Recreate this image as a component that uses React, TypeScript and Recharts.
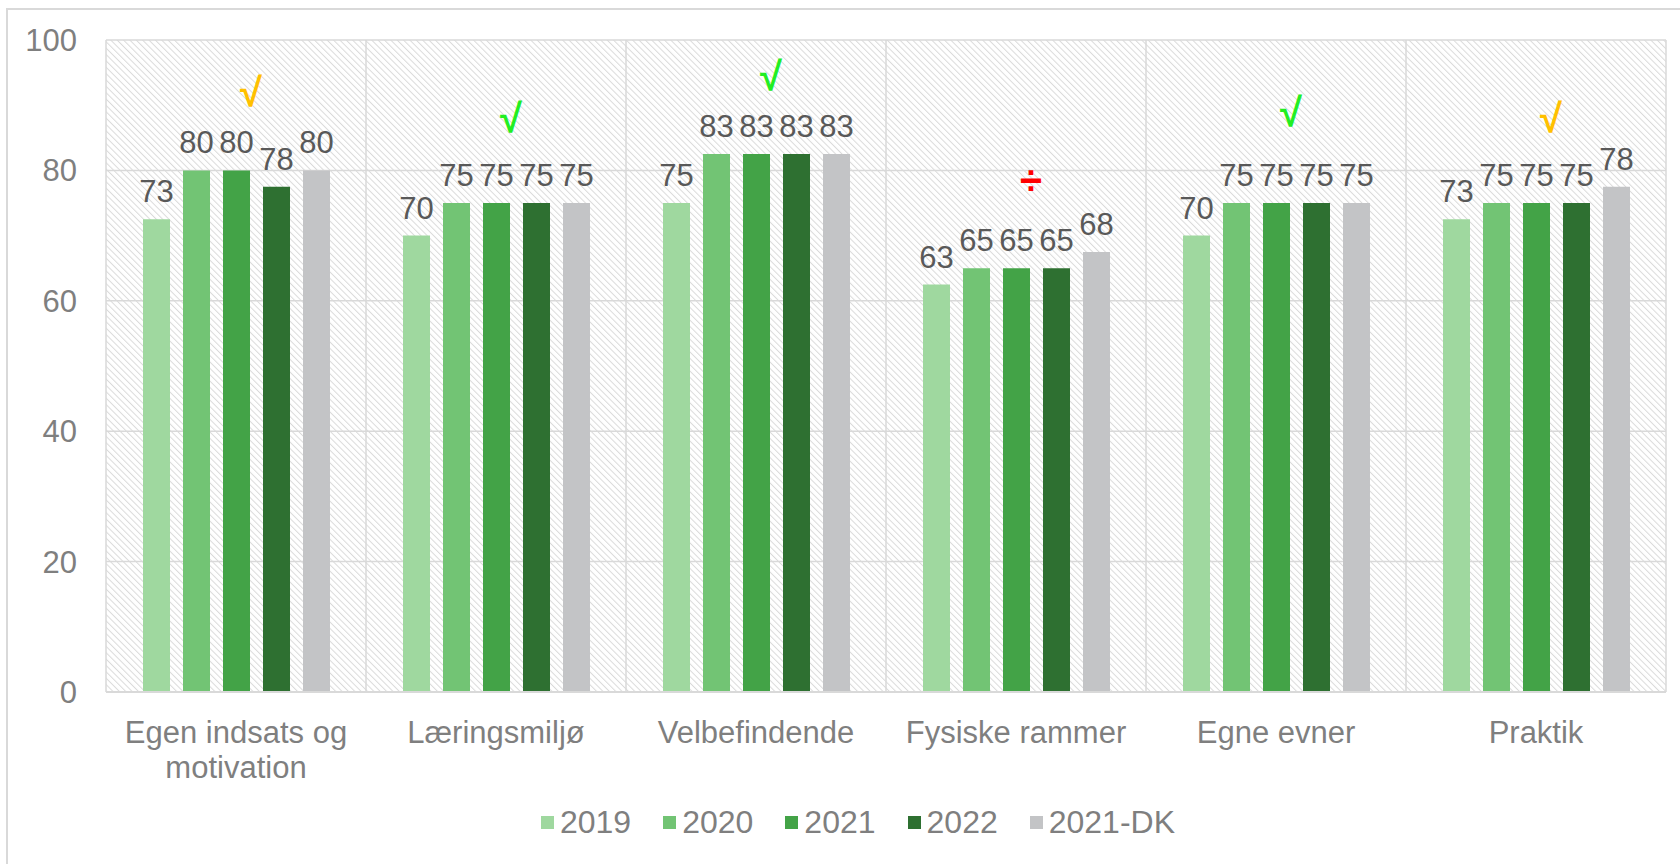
import React from 'react';
import { ComposedChart, Bar, Line, XAxis, YAxis, CartesianGrid, LabelList, Legend } from 'recharts';

const CATEGORIES = ['Egen indsats og\nmotivation', 'Læringsmiljø', 'Velbefindende', 'Fysiske rammer', 'Egne evner', 'Praktik'];

const Y2019 = [72.5, 70, 75, 62.5, 70, 72.5];
const Y2020 = [80, 75, 82.5, 65, 75, 75];
const Y2021 = [80, 75, 82.5, 65, 75, 75];
const Y2022 = [77.5, 75, 82.5, 65, 75, 75];
const Y2021DK = [80, 75, 82.5, 67.5, 75, 77.5];

// status marks drawn above each group
const MARK_SYMBOLS = ['√', '√', '√', '÷', '√', '√'];
const MARK_STATUS = ['neutral', 'up', 'up', 'down', 'up', 'neutral'];
const MARK_LEVELS = [92, 88, 94.5, 78.5, 89, 88];

const Y_TICKS = [0, 20, 40, 60, 80, 100];

const SERIES = [
  { key: 'y2019', name: '2019', color: '#9fd89f' },
  { key: 'y2020', name: '2020', color: '#72c474' },
  { key: 'y2021', name: '2021', color: '#43a347' },
  { key: 'y2022', name: '2022', color: '#2e7031' },
  { key: 'y2021dk', name: '2021-DK', color: '#c3c4c6' },
];

const STATUS_COLORS: Record<string, string> = {
  neutral: '#ffc000',
  up: '#22ee22',
  down: '#ff0000',
};

const FONT = '"Liberation Sans", Arial, sans-serif';

const data = CATEGORIES.map((name, i) => ({
  name,
  y2019: Y2019[i],
  y2020: Y2020[i],
  y2021: Y2021[i],
  y2022: Y2022[i],
  y2021dk: Y2021DK[i],
  mark: MARK_LEVELS[i],
  symbol: MARK_SYMBOLS[i],
  status: MARK_STATUS[i],
}));

function CategoryTick({ x, y, payload }: any) {
  const lines = String(payload.value).split('\n');
  return (
    <text x={x} y={y} textAnchor="middle" fill="#7f7f7f" fontSize={31} fontFamily={FONT}>
      {lines.map((line, i) => (
        <tspan key={i} x={x} dy={i === 0 ? 22 : 35}>
          {line}
        </tspan>
      ))}
    </text>
  );
}

function renderMark(props: any) {
  const { cx, cy, payload, index } = props;
  if (cx == null || cy == null) return <g key={index} />;
  return (
    <text
      key={index}
      x={cx + 15}
      y={cy}
      textAnchor="middle"
      dominantBaseline="central"
      fill={STATUS_COLORS[payload.status]}
      fontSize={40}
      fontWeight="bold"
      fontFamily={FONT}
    >
      {payload.symbol}
    </text>
  );
}

function LegendContent() {
  return (
    <div style={{ display: 'flex', justifyContent: 'center', alignItems: 'center', fontFamily: FONT }}>
      {SERIES.map((s) => (
        <div key={s.key} style={{ display: 'flex', alignItems: 'center', margin: '0 16px' }}>
          <span style={{ width: 13, height: 13, background: s.color, display: 'inline-block', marginRight: 6 }} />
          <span style={{ fontSize: 32, color: '#7f7f7f' }}>{s.name}</span>
        </div>
      ))}
    </div>
  );
}

export default function App() {
  return (
    <div style={{ position: 'absolute', left: 0, top: 0, width: 1680, height: 864, background: '#fff', overflow: 'hidden' }}>
      <div
        style={{
          position: 'absolute',
          left: 6,
          top: 8,
          width: 1680,
          height: 864,
          borderTop: '2px solid #d9d9d9',
          borderLeft: '2px solid #d9d9d9',
        }}
      />
      <div style={{ position: 'absolute', left: 0, top: 0 }}>
        <ComposedChart
          width={1680}
          height={864}
          data={data}
          margin={{ top: 40, right: 14, left: 0, bottom: 72 }}
          barSize={27}
          barGap={13}
        >
          <defs>
            <pattern id="hatch" width="4.5" height="10" patternUnits="userSpaceOnUse" patternTransform="rotate(-45)">
              <line x1="0.5" y1="0" x2="0.5" y2="10" stroke="#dadada" strokeWidth="1" />
            </pattern>
          </defs>
          <CartesianGrid
            stroke="#d9d9d9"
            strokeWidth={1.5}
            fill="url(#hatch)"
            verticalCoordinatesGenerator={({ offset }: any) =>
              [...CATEGORIES.map((_, i) => offset.left + (i * offset.width) / CATEGORIES.length), offset.left + offset.width]
            }
          />
          <XAxis
            dataKey="name"
            height={100}
            tickLine={false}
            tickSize={0}
            tickMargin={29}
            axisLine={{ stroke: '#d9d9d9', strokeWidth: 2 }}
            tick={<CategoryTick />}
            interval={0}
          />
          <YAxis
            width={106}
            domain={[0, 100]}
            ticks={Y_TICKS}
            axisLine={false}
            tickLine={false}
            tickSize={0}
            tickMargin={29}
            tick={{ fill: '#7f7f7f', fontSize: 31, fontFamily: FONT }}
          />
          {SERIES.map((s) => (
            <Bar key={s.key} dataKey={s.key} name={s.name} fill={s.color} isAnimationActive={false}>
              <LabelList
                dataKey={s.key}
                position="top"
                offset={17}
                formatter={(v: any) => Math.round(Number(v))}
                fill="#595959"
                fontSize={31}
                fontFamily={FONT}
              />
            </Bar>
          ))}
          <Line
            dataKey="mark"
            stroke="none"
            dot={renderMark}
            activeDot={false}
            legendType="none"
            isAnimationActive={false}
          />
          <Legend
            layout="horizontal"
            verticalAlign="middle"
            align="center"
            content={<LegendContent />}
            wrapperStyle={{ top: 804, left: 36, width: 1644 }}
          />
        </ComposedChart>
      </div>
    </div>
  );
}
